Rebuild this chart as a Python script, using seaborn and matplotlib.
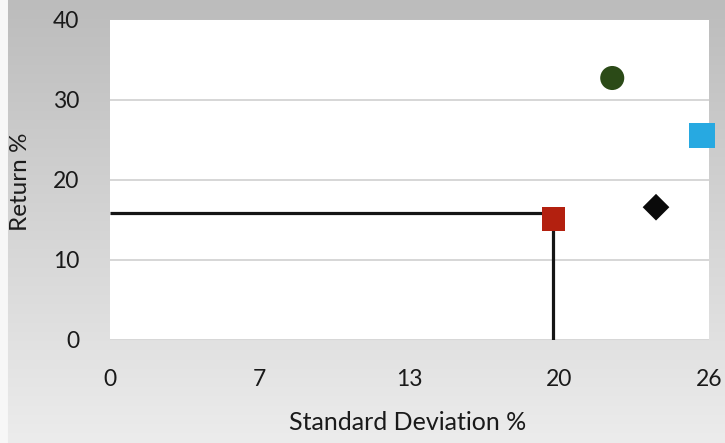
import numpy as np
import pandas as pd
import matplotlib
matplotlib.use("Agg")
import matplotlib.pyplot as plt
import seaborn as sns

# Risk / return of four holdings
assets = ["Fund", "Growth", "Income", "Index"]
std_dev = [19.25, 21.8, 25.7, 23.7]
returns = [15.1, 32.75, 25.6, 16.6]
marker_shapes = {"Fund": "s", "Growth": "o", "Income": "s", "Index": "D"}
marker_colors = {"Fund": "#b3200f", "Growth": "#2b4a17", "Income": "#27a9e1", "Index": "#0a0a0a"}
marker_sizes = {"Fund": 290, "Growth": 300, "Income": 330, "Index": 185}

# Reference guide lines for the highlighted fund
guide_sd = 19.25
guide_ret = 15.9

# Axis ticks (labels rounded to whole percent)
x_ticks = [0, 6.5, 13, 19.5, 26]
x_tick_labels = ["0", "7", "13", "20", "26"]
y_ticks = [0, 10, 20, 30, 40]
y_tick_labels = ["0", "10", "20", "30", "40"]

df = pd.DataFrame({"asset": assets, "sd": std_dev, "ret": returns})

sns.set_theme(style="white")
plt.rcParams["font.family"] = ["Lato", "DejaVu Sans"]

W, H = 725, 443
fig = plt.figure(figsize=(W / 100, H / 100), dpi=100)

# Soft grey vertical gradient behind the chart
bg = fig.add_axes([0, 0, 1, 1], zorder=-5)
col = np.linspace(188, 236, H)[:, None] * np.ones((1, W))
col[:, :8] = 247
img = np.dstack([col, col, col]) / 255.0
bg.imshow(img, aspect="auto", extent=[0, 1, 0, 1], origin="upper")
bg.set_axis_off()

L, R, T, B = 110, 709, 20, 340
ax = fig.add_axes([L / W, 1 - B / H, (R - L) / W, (B - T) / H])
ax.set_facecolor("white")

ax.set_xlim(0, 26)
ax.set_ylim(0, 40)

# Horizontal grid
for yv in y_ticks[:-1]:
    ax.axhline(yv, color="#d6d6d6", lw=1.4, zorder=1)

# Guide lines to the highlighted point
ax.plot([0, guide_sd], [guide_ret, guide_ret], color="#151515", lw=2.3, zorder=2,
        solid_capstyle="butt")
ax.plot([guide_sd, guide_sd], [0, guide_ret], color="#151515", lw=2.3, zorder=2,
        solid_capstyle="butt")

sns.scatterplot(data=df, x="sd", y="ret", hue="asset", style="asset",
                size="asset", sizes=marker_sizes, markers=marker_shapes,
                palette=marker_colors, linewidth=0, legend=False,
                ax=ax, zorder=3, clip_on=False)

for s in ax.spines.values():
    s.set_visible(False)

ax.set_xticks(x_ticks)
ax.set_xticklabels(x_tick_labels)
ax.set_yticks(y_ticks)
ax.set_yticklabels(y_tick_labels)
ax.tick_params(axis="x", length=0, pad=21, labelsize=16.5, labelcolor="#1a1a1a")
ax.tick_params(axis="y", length=3, width=1.2, color="#d6d6d6", direction="out",
               pad=19, labelsize=16.5, labelcolor="#1a1a1a")

ax.set_xlabel("Standard Deviation %", fontsize=18, color="#1a1a1a")
ax.set_ylabel("Return %", fontsize=17.5, color="#1a1a1a")
ax.xaxis.label.set_va("center")
ax.yaxis.label.set_va("center")
ax.xaxis.set_label_coords((408 - L) / (R - L), (B - 423) / (B - T))
ax.yaxis.set_label_coords((21 - L) / (R - L), (B - 182) / (B - T))

fig.savefig("out.png", dpi=100)
